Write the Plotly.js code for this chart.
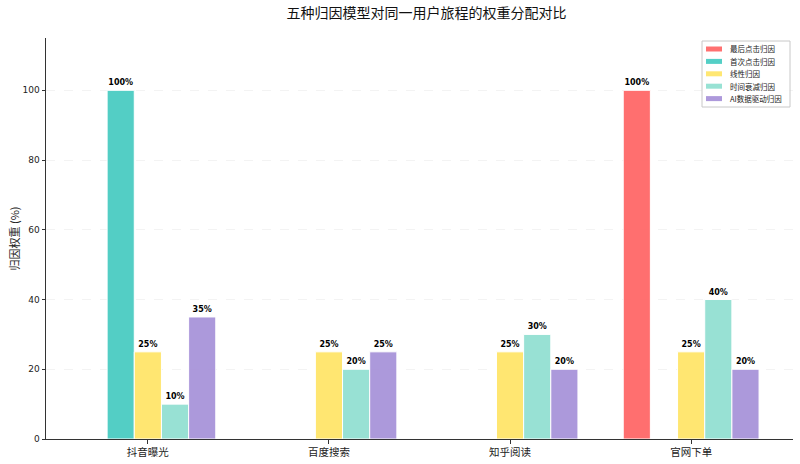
<!DOCTYPE html>
<html><head><meta charset="utf-8">
<script src="https://cdn.plot.ly/plotly-3.0.1.min.js"></script>
<style>html,body{margin:0;padding:0;background:#fff}#chart{width:800px;height:464px}</style>
</head><body><div id="chart"></div>
<script>
const categories = ['抖音曝光', '百度搜索', '知乎阅读', '官网下单'];
const seriesNames = ['最后点击归因', '首次点击归因', '线性归因', '时间衰减归因', 'AI数据驱动归因'];
const lastClick = [0, 0, 0, 100];
const firstClick = [100, 0, 0, 0];
const linear = [25, 25, 25, 25];
const timeDecay = [10, 20, 30, 40];
const aiDriven = [35, 25, 20, 20];
const yTicks = [0, 20, 40, 60, 80, 100];
const yTitle = '归因权重 (%)';

const seriesValues = [lastClick, firstClick, linear, timeDecay, aiDriven];
const colors = ['#FF6B6B', '#4ECDC4', '#FFE66D', '#95E1D3', '#AA96DA'];
const font = 'DejaVu Sans, "Noto Sans CJK SC", sans-serif';
const cjk = '"Noto Sans CJK SC", sans-serif';
const barW = 0.15;
const M = {l: 46, r: 7, t: 38, b: 25};
const W = 800, H = 464;
const pw = W - M.l - M.r, ph = H - M.t - M.b;
const px = x => (x - M.l) / pw;
const py = y => (H - M.b - y) / ph;

const traces = seriesValues.map((vals, i) => ({
  type: 'bar',
  name: seriesNames[i],
  x: categories.map((c, k) => k),
  y: vals,
  width: barW,
  offset: (i - 2.5) * barW,
  marker: {color: colors[i], opacity: 0.97, line: {color: '#ffffff', width: 1}},
  text: vals.map(v => v > 0 ? v + '%' : ''),
  textposition: 'outside',
  cliponaxis: false,
  textfont: {family: font, size: 8, color: '#000', weight: 'bold'},
  hoverinfo: 'none',
  showlegend: false
}));

// custom compact legend (styling only)
const shapes = [{type: 'rect', xref: 'paper', yref: 'paper', x0: px(702), x1: px(790), y0: py(107), y1: py(41),
  line: {color: '#c8c8c8', width: 1}, fillcolor: 'rgba(255,255,255,0.9)', layer: 'above'}];
const annotations = [];
seriesNames.forEach((n, i) => {
  const yc = 49 + i * 12.4;
  shapes.push({type: 'rect', xref: 'paper', yref: 'paper', x0: px(706), x1: px(722), y0: py(yc + 2.5), y1: py(yc - 2.5),
    line: {width: 0}, fillcolor: colors[i], opacity: 0.97, layer: 'above'});
  annotations.push({xref: 'paper', yref: 'paper', x: px(728), y: py(yc), xanchor: 'left', yanchor: 'middle',
    text: n, showarrow: false, font: {family: cjk, size: 7.5, color: '#222'}});
});
annotations.push({xref: 'paper', yref: 'paper', x: px(13), y: py(238.5), xanchor: 'center', yanchor: 'middle',
  text: yTitle, textangle: -90, showarrow: false, font: {size: 11, family: cjk, color: '#222'}});

const layout = {
  width: W, height: H,
  margin: M,
  paper_bgcolor: '#fff', plot_bgcolor: '#fff',
  font: {family: font, color: '#222'},
  title: {text: '五种归因模型对同一用户旅程的权重分配对比', font: {family: cjk, size: 14, color: '#111'}, x: 0.533, xanchor: 'center', y: 0.972, yanchor: 'middle'},
  barmode: 'overlay',
  showlegend: false,
  shapes: shapes,
  annotations: annotations,
  xaxis: {
    range: [-0.5625, 3.5625], tickvals: categories.map((c, k) => k), ticktext: categories,
    showline: true, linecolor: '#333', linewidth: 1, ticks: 'outside', ticklen: 3.5, tickcolor: '#333',
    showgrid: false, zeroline: false, tickfont: {size: 10.5, family: cjk, color: '#222'}
  },
  yaxis: {
    range: [0, 115], tickvals: yTicks, ticktext: yTicks.map(String),
    showline: true, linecolor: '#333', linewidth: 1, ticks: 'outside', ticklen: 3.5, tickcolor: '#333',
    showgrid: true, gridcolor: 'rgba(200,200,200,0.3)', griddash: 'dash', gridwidth: 0.7, zeroline: false,
    tickfont: {size: 9, color: '#222'}
  }
};
Plotly.newPlot('chart', traces, layout, {staticPlot: true});
</script></body></html>
